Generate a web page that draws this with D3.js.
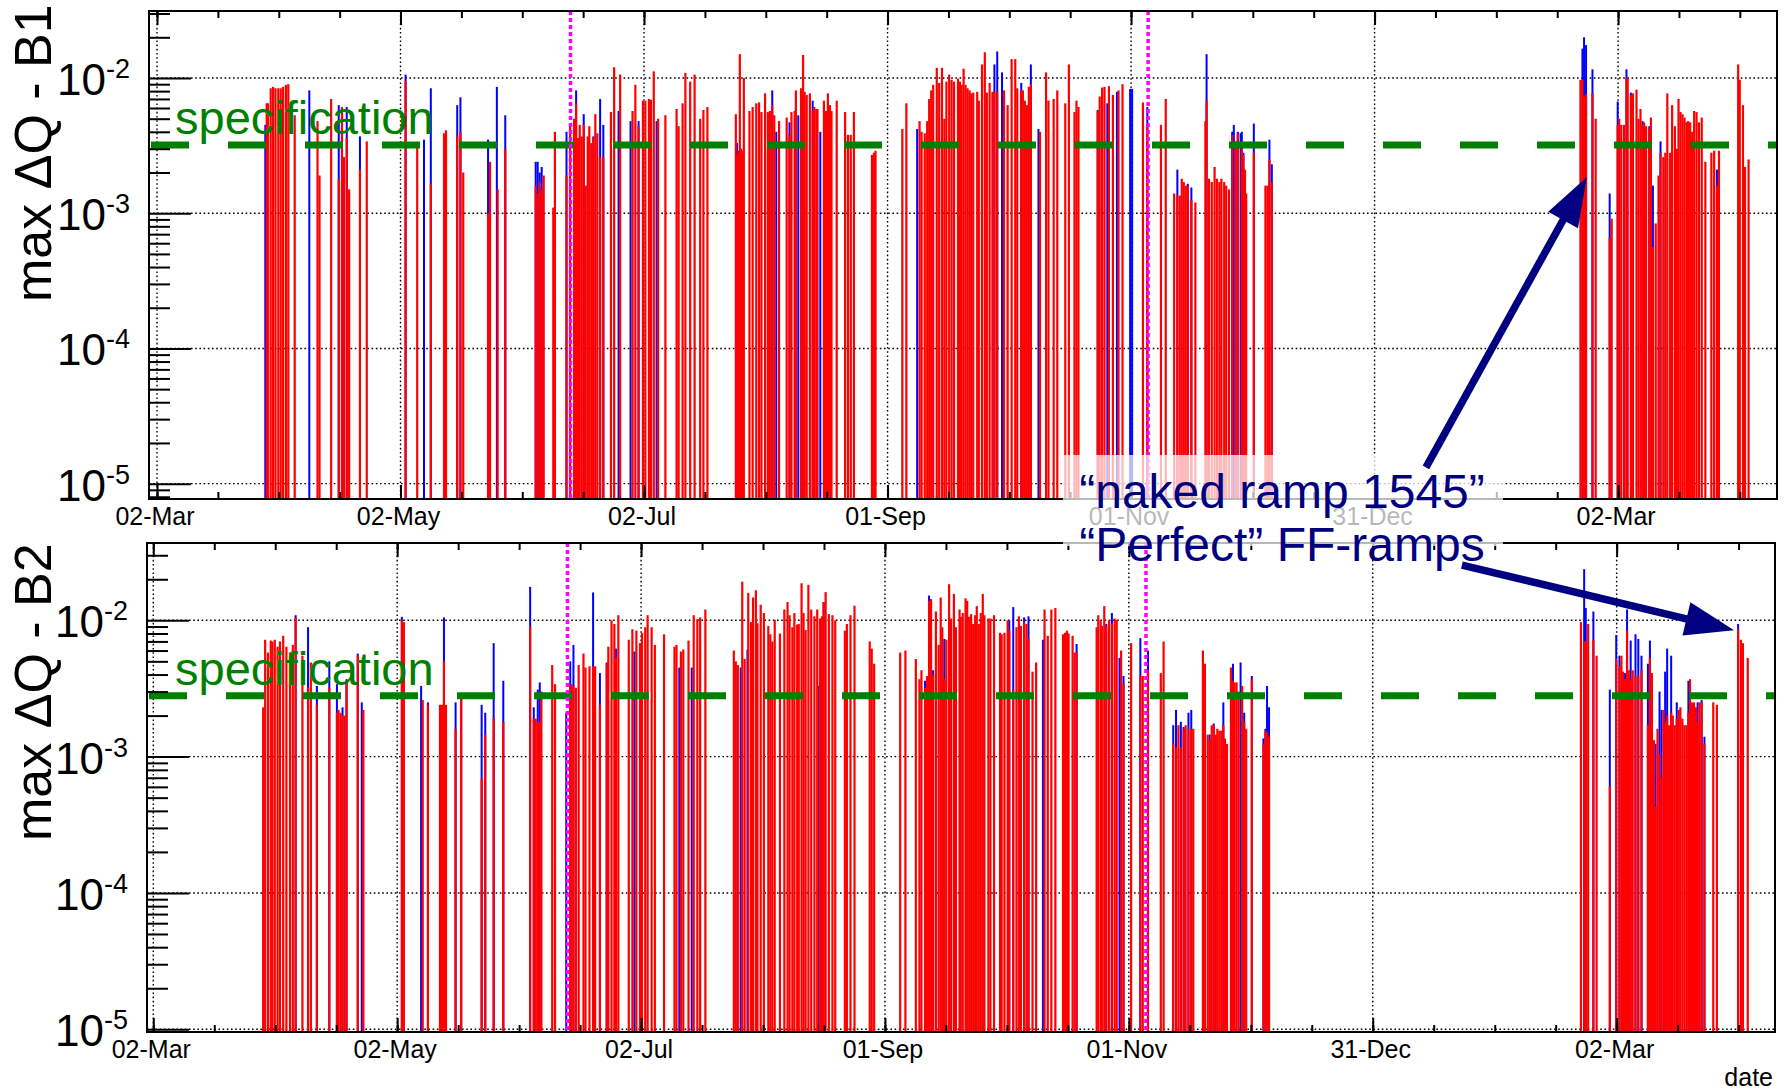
<!DOCTYPE html>
<html>
<head>
<meta charset="utf-8">
<script src="https://cdn.jsdelivr.net/npm/d3@7"></script>
<style>
  body { margin: 0; background: #fff; }
  svg { display: block; font-family: "Liberation Sans", Arial, Helvetica, sans-serif; }
</style>
</head>
<body>
<div id="chart"></div>
<script>
// days are counted from 02-Mar-2010, values are max dQ per ramp
const xTickLabels = ["02-Mar", "02-May", "02-Jul", "01-Sep", "01-Nov", "31-Dec", "02-Mar"];
const yDecades = [1e-5, 1e-4, 1e-3, 1e-2];
const beamModeDays = [103.3, 247.6];
const specB1 = 3.2e-3;
const specB2 = 2.8e-3;

const b1Red = [
  [27.4,6.5e-3],[27.7,6.5e-3],[28.4,8.4e-3],[29.0,8.6e-3],[29.6,8.4e-3],[30.3,8.4e-3],[30.9,8.4e-3],[31.5,8.6e-3],[32.2,8.9e-3],[32.8,9.0e-3],
  [34.4,5.3e-3],[40.1,4.8e-3],[40.6,1.9e-3],[43.5,7.0e-3],[45.4,1.8e-3],[46.2,6.1e-3],[46.7,2.6e-3],[47.4,3.6e-3],[48.0,1.5e-3],[50.7,2.1e-3],
  [52.4,3.4e-3],[62.1,9.5e-3],[65.0,3.2e-3],[68.4,1.65e-3],[71.7,3.9e-3],[72.2,4.1e-3],[75.0,3.7e-3],[75.8,4.0e-3],[76.5,2.0e-3],[82.7,1.0e-3],
  [83.2,2.4e-3],[85.1,1.5e-3],[87.0,3.0e-3],[94.6,1.6e-3],[95.1,1.4e-3],[95.6,1.7e-3],[96.1,1.5e-3],[96.6,1.9e-3],[99.0,1.1e-3],[99.4,4.0e-3],
  [102.3,1.9e-3],[103.2,4.5e-3],[104.2,5.0e-3],[104.7,6.5e-3],[105.2,3.6e-3],[105.6,4.5e-3],[106.1,3.7e-3],[106.6,4.5e-3],[107.1,1.6e-3],[107.6,3.7e-3],
  [108.0,4.4e-3],[108.5,3.3e-3],[109.0,3.6e-3],[109.5,5.4e-3],[110.0,3.9e-3],[110.7,2.6e-3],[111.5,2.6e-3],[113.4,5.6e-3],[114.2,1.2e-2],[115.7,1.06e-2],
  [118.8,5.7e-3],[119.5,8.9e-3],[120.3,4.4e-3],[121.4,6.8e-3],[122.0,6.8e-3],[122.9,7.0e-3],[123.4,6.9e-3],[124.1,1.12e-2],[125.2,5.0e-3],[127.0,5.3e-3],
  [129.8,5.9e-3],[130.3,4.4e-3],[131.3,6.5e-3],[132.0,1.09e-2],[133.2,9.4e-3],[134.3,1.06e-2],[135.7,5.0e-3],[136.5,5.8e-3],[137.5,6.1e-3],[144.6,5.4e-3],
  [144.9,2.7e-3],[145.3,2.9e-3],[145.6,1.5e-2],[145.9,3.0e-3],[146.3,2.9e-3],[146.6,1.0e-2],[148.0,5.7e-3],[148.8,6.1e-3],[149.7,6.5e-3],[150.4,6.6e-3],
  [151.0,5.6e-3],[151.9,7.7e-3],[152.6,5.6e-3],[153.1,5.7e-3],[153.7,6.3e-3],[154.2,5.3e-3],[155.4,4.8e-3],[157.3,5.1e-3],[158.0,3.8e-3],[158.5,5.6e-3],
  [159.3,5.7e-3],[159.6,8.1e-3],[160.9,8.4e-3],[161.4,1.48e-2],[161.8,7.9e-3],[162.3,7.5e-3],[163.1,7.7e-3],[163.8,5.7e-3],[164.2,6.1e-3],[164.7,5.9e-3],
  [165.0,5.9e-3],[166.6,6.8e-3],[167.1,5.7e-3],[167.6,7.7e-3],[168.1,6.3e-3],[168.5,5.7e-3],[169.8,6.8e-3],[171.9,5.6e-3],[172.6,3.8e-3],[173.3,3.8e-3],
  [174.1,5.6e-3],[178.6,2.7e-3],[179.1,2.8e-3],[179.5,2.9e-3],[186.2,4.2e-3],[187.2,6.5e-3],[190.5,4.8e-3],[191.0,4.0e-3],[191.8,3.9e-3],[192.4,4.8e-3],
  [192.9,7.0e-3],[193.4,8.1e-3],[193.9,8.9e-3],[194.8,1.19e-2],[195.4,9.2e-3],[196.1,1.19e-2],[196.7,5.0e-3],[197.2,9.4e-3],[197.9,1.06e-2],[198.5,9.7e-3],
  [199.1,9.4e-3],[200.1,9.9e-3],[200.6,9.4e-3],[201.0,8.9e-3],[201.5,1.17e-2],[202.0,8.9e-3],[202.5,8.4e-3],[203.0,8.1e-3],[203.4,7.7e-3],[203.9,7.8e-3],
  [204.9,7.9e-3],[205.3,6.8e-3],[206.1,1.26e-2],[206.8,1.55e-2],[207.3,7.8e-3],[208.0,9.2e-3],[208.7,7.9e-3],[209.2,7.9e-3],[209.9,7.9e-3],[211.6,8.1e-3],
  [212.5,6.3e-3],[213.5,1.38e-2],[214.4,1.38e-2],[214.9,8.4e-3],[215.9,8.1e-3],[216.3,8.1e-3],[216.8,6.8e-3],[217.3,6.3e-3],[217.8,8.6e-3],[218.3,9.0e-3],
  [220.6,4.0e-3],[222.1,1.1e-2],[222.7,6.8e-3],[224.0,7.0e-3],[224.9,8.1e-3],[226.9,6.5e-3],[227.8,1.26e-2],[229.2,5.6e-3],[229.7,6.8e-3],[230.2,6.1e-3],
  [235.0,5.7e-3],[235.5,7.3e-3],[236.1,8.5e-3],[236.7,8.6e-3],[237.8,8.7e-3],[238.8,7.5e-3],[240.2,8.1e-3],[241.2,9.0e-3],[246.3,6.6e-3],[247.4,4.4e-3],
  [250.8,4.5e-3],[252.0,7.0e-3],[254.1,1.4e-3],[254.9,1.35e-3],[255.5,1.35e-3],[256.0,1.8e-3],[256.5,1.7e-3],[257.0,1.6e-3],[257.5,1.6e-3],[258.4,1.25e-3],
  [259.4,1.2e-3],[261.9,4.8e-3],[262.2,6.8e-3],[262.8,1.8e-3],[263.5,1.7e-3],[264.2,2.2e-3],[264.8,1.8e-3],[265.4,1.7e-3],[265.9,1.8e-3],[266.6,1.7e-3],
  [267.1,1.6e-3],[267.8,1.5e-3],[268.6,3.8e-3],[269.5,3.4e-3],[270.0,3.9e-3],[271.0,3.0e-3],[271.4,2.7e-3],[271.8,2.1e-3],[272.1,1.4e-3],[274.0,2.8e-3],
  [276.9,1.6e-3],[277.4,1.6e-3],[277.9,2.5e-3],[278.5,1.7e-3],
  [355.6,9.7e-3],[356.1,9.7e-3],[356.5,7.3e-3],[357.0,7.6e-3],[358.6,7.7e-3],[359.4,5.0e-3],[362.9,6.6e-4],[363.4,9.1e-4],[364.9,4.5e-3],[365.3,5.0e-3],
  [365.8,4.5e-3],[366.5,4.5e-3],[367.1,1.0e-2],[367.4,1.0e-2],[368.2,7.5e-3],[368.7,7.7e-3],[369.6,8.2e-3],[370.1,5.0e-3],[370.6,5.9e-3],[371.1,4.5e-3],
  [371.5,4.7e-3],[372.0,4.4e-3],[372.8,4.2e-3],[373.2,5.1e-3],[373.7,5.6e-4],[374.4,8.4e-4],[375.1,1.9e-3],[375.6,2.8e-3],[376.3,2.6e-3],[376.8,2.8e-3],
  [377.3,7.7e-3],[378.0,2.8e-3],[378.5,6.3e-3],[379.2,4.4e-3],[379.7,3.0e-3],[380.1,7.0e-3],[380.6,5.6e-3],[381.1,5.4e-3],[381.6,5.1e-3],[382.1,4.7e-3],
  [382.5,4.8e-3],[383.0,4.7e-3],[383.5,4.0e-3],[384.0,5.7e-3],[384.6,5.6e-3],[385.2,4.7e-3],[385.9,5.1e-3],[386.8,2.4e-3],[388.3,2.8e-3],[389.0,2.9e-3],
  [389.7,1.6e-3],[390.2,2.9e-3],[395.0,1.26e-2],[395.4,9.7e-3],[396.2,6.3e-3],[396.7,2.2e-3],[397.6,2.5e-3]
];

const b1Blue = [
  [27.05,4.5e-3],[38.05,8.1e-3],[45.4,6.3e-3],[47.4,6.1e-3],[50.7,3.7e-3],[62.1,1.06e-2],[66.7,3.5e-3],[68.4,8.4e-3],[75.0,6.3e-3],[75.8,7.2e-3],
  [82.7,3.5e-3],[84.9,8.6e-3],[87.0,5.3e-3],[94.6,2.4e-3],[95.1,2.4e-3],[95.6,2.0e-3],[96.1,2.2e-3],[102.3,4.0e-3],[104.7,8.1e-3],[106.6,5.4e-3],
  [109.0,3.7e-3],[110.7,7.0e-3],[111.5,4.5e-3],[115.3,5.7e-3],[118.3,4.8e-3],[120.3,4.8e-3],[124.8,4.8e-3],[144.9,3.3e-3],[153.7,8.1e-3],[154.7,4.0e-3],
  [158.0,4.7e-3],[160.2,5.3e-3],[163.8,6.8e-3],[165.7,4.0e-3],[189.9,4.2e-3],[209.2,1.26e-2],[209.9,1.57e-2],[211.1,1.1e-2],[215.9,9.2e-3],[218.3,1.26e-2],
  [220.2,4.2e-3],[235.0,5.8e-3],[237.4,6.5e-3],[239.8,7.9e-3],[243.1,8.3e-3],[243.6,8.3e-3],[247.4,6.1e-3],[254.9,2.1e-3],[257.5,1.65e-3],[258.4,1.55e-3],
  [262.2,1.5e-2],[268.6,4.0e-3],[269.0,4.5e-3],[270.0,4.0e-3],[270.7,3.9e-3],[271.0,4.0e-3],[271.4,2.8e-3],[274.0,4.6e-3],[277.9,3.5e-3],[278.5,2.3e-3],
  [356.1,1.65e-2],[356.5,2.0e-2],[357.0,1.75e-2],[358.6,1.16e-2],[362.9,1.4e-3],[364.9,6.7e-3],[367.1,1.16e-2],[368.2,7.8e-3],[371.1,4.8e-3],[372.8,4.4e-3],
  [373.7,1.6e-3],[375.6,3.4e-3],[389.7,2.1e-3]
];

const b2Red = [
  [27.4,2.3e-3],[27.9,7.2e-3],[28.6,5.8e-3],[29.3,7.1e-3],[29.7,7.0e-3],[30.3,7.2e-3],[31.0,6.4e-3],[31.6,7.0e-3],[32.4,7.7e-3],[33.2,6.4e-3],
  [34.1,5.8e-3],[34.8,6.6e-3],[35.5,1.05e-2],[37.2,5.5e-3],[38.6,3.2e-3],[39.3,4.9e-3],[40.8,2.4e-3],[43.9,3.2e-3],[45.8,2.1e-3],[46.2,2.2e-3],
  [46.7,2.1e-3],[47.2,2.0e-3],[47.7,2.0e-3],[48.2,3.6e-3],[51.0,5.5e-3],[52.4,2.2e-3],[62.0,1.0e-2],[62.5,9.7e-3],[67.2,2.6e-3],[68.5,2.4e-3],
  [71.5,2.4e-3],[72.0,2.4e-3],[72.5,5.0e-3],[73.0,2.4e-3],[75.4,1.6e-3],[76.8,2.8e-3],[81.9,6.9e-4],[82.8,1.45e-3],[84.9,1.9e-3],[87.3,1.8e-3],
  [94.0,9.0e-3],[94.9,1.9e-3],[95.4,1.9e-3],[95.9,1.8e-3],[96.4,1.8e-3],[96.8,3.0e-3],[99.5,4.7e-3],[100.2,3.4e-3],[104.0,3.3e-3],[104.3,3.4e-3],
  [104.8,3.3e-3],[105.4,3.2e-3],[106.1,4.7e-3],[107.3,5.7e-3],[107.8,4.5e-3],[108.8,4.6e-3],[109.7,4.6e-3],[110.2,4.6e-3],[111.4,2.4e-3],[113.1,4.8e-3],
  [113.5,6.4e-3],[114.3,1.0e-2],[115.0,9.4e-3],[115.4,5.3e-3],[116.0,1.09e-2],[118.6,7.2e-3],[119.5,8.6e-3],[120.5,8.4e-3],[121.4,6.8e-3],[121.9,8.1e-3],
  [122.7,8.9e-3],[123.3,1.09e-2],[124.3,8.9e-3],[125.1,6.6e-3],[127.4,7.9e-3],[130.0,6.4e-3],[130.5,6.6e-3],[131.6,5.9e-3],[132.2,6.1e-3],[133.5,7.1e-3],
  [134.8,1.09e-2],[135.7,1.02e-2],[136.4,1.05e-2],[137.7,1.2e-2],[144.8,6.0e-3],[145.3,5.0e-3],[145.8,4.7e-3],[146.9,1.92e-2],[147.5,5.2e-3],[148.4,1.59e-2],
  [149.1,9.7e-3],[149.6,1.47e-2],[150.3,1.66e-2],[150.7,9.5e-3],[151.5,1.3e-2],[152.3,1.13e-2],[153.4,9.1e-3],[153.9,7.9e-3],[154.4,7.0e-3],[155.0,1.01e-2],
  [156.3,8.0e-3],[157.4,1.2e-2],[158.2,1.36e-2],[158.7,1.09e-2],[159.4,8.9e-3],[159.9,1.13e-2],[160.6,9.3e-3],[161.0,9.4e-3],[161.7,1.87e-2],[162.2,1.13e-2],
  [162.7,8.5e-3],[163.4,1.82e-2],[164.1,1.2e-2],[164.9,1.07e-2],[165.6,1.2e-2],[166.3,1.03e-2],[166.8,1.07e-2],[167.2,1.35e-2],[167.7,1.61e-2],[168.5,1.11e-2],
  [169.4,1.09e-2],[170.1,1.0e-2],[172.5,8.4e-3],[173.0,9.4e-3],[173.9,1.09e-2],[174.9,1.28e-2],[178.7,7.0e-3],[179.2,6.2e-3],[179.8,4.8e-3],[186.3,5.8e-3],
  [187.6,6.0e-3],[190.2,5.2e-3],[191.1,3.7e-3],[191.6,4.3e-3],[192.5,3.2e-3],[193.0,3.9e-3],[193.5,1.39e-2],[194.0,1.43e-2],[194.5,4.0e-3],[195.2,1.16e-2],
  [195.9,6.6e-3],[196.4,1.47e-2],[196.8,8.9e-3],[197.3,3.7e-3],[197.8,7.2e-3],[198.5,1.84e-2],[199.0,1.03e-2],[199.7,1.56e-2],[200.2,8.9e-3],[201.1,1.2e-2],
  [201.4,1.06e-2],[201.9,1.13e-2],[202.6,1.45e-2],[203.0,1.39e-2],[203.5,1.06e-2],[204.0,1.11e-2],[204.5,9.4e-3],[205.0,1.09e-2],[205.4,1.27e-2],[205.9,9.4e-3],
  [206.4,1.13e-2],[206.9,1.56e-2],[207.3,1.09e-2],[208.3,1.03e-2],[208.8,1.03e-2],[209.7,1.09e-2],[211.2,8.1e-3],[211.6,7.9e-3],[212.3,8.1e-3],[213.1,1.0e-2],
  [213.5,8.4e-3],[214.5,3.1e-3],[215.3,8.9e-3],[215.9,1.07e-2],[216.4,9.1e-3],[217.2,9.7e-3],[217.8,9.4e-3],[218.3,7.4e-3],[219.3,4.2e-3],[220.2,4.9e-3],
  [222.3,1.2e-2],[223.1,7.7e-3],[224.0,1.2e-2],[225.0,1.23e-2],[226.9,7.9e-3],[227.4,8.1e-3],[227.9,8.4e-3],[228.3,8.0e-3],[229.3,7.7e-3],[229.8,5.8e-3],
  [230.3,5.8e-3],[235.3,8.9e-3],[235.7,1.09e-2],[236.3,1.0e-2],[236.6,9.1e-3],[237.2,1.27e-2],[237.7,9.1e-3],[238.4,1.0e-2],[239.1,9.4e-3],[239.8,1.03e-2],
  [240.3,1.01e-2],[241.4,6.0e-3],[242.0,3.4e-3],[243.9,6.8e-3],[246.2,3.9e-3],[246.8,3.9e-3],[248.1,4.3e-3],[251.3,4.1e-3],[252.0,7.0e-3],[254.4,1.24e-3],
  [255.1,1.17e-3],[255.7,1.7e-3],[256.3,1.17e-3],[257.0,1.6e-3],[257.5,1.7e-3],[258.2,1.6e-3],[258.9,1.6e-3],[259.4,1.6e-3],[261.8,6.0e-3],[262.3,4.8e-3],
  [263.0,1.45e-3],[263.5,1.32e-3],[264.0,1.7e-3],[264.5,1.7e-3],[265.0,1.45e-3],[265.4,1.6e-3],[265.9,1.55e-3],[266.4,1.55e-3],[266.9,1.7e-3],[267.3,1.36e-3],
  [267.8,1.24e-3],[268.8,4.5e-3],[269.3,3.6e-3],[269.7,3.5e-3],[270.2,3.5e-3],[270.7,3.0e-3],[271.6,3.3e-3],[272.1,1.8e-3],[272.6,1.6e-3],[274.0,3.7e-3],
  [276.9,1.24e-3],[277.4,1.55e-3],[277.8,1.5e-3],[278.3,1.4e-3],
  [356.1,9.7e-3],[356.9,7.0e-3],[357.3,7.0e-3],[357.9,9.4e-3],[359.2,7.2e-3],[360.0,5.5e-3],[363.3,6.1e-4],[364.9,5.2e-3],[365.7,4.6e-3],[366.2,5.5e-3],
  [366.6,4.2e-3],[367.1,3.7e-3],[367.6,8.4e-3],[368.1,4.3e-3],[368.5,3.7e-3],[369.0,4.3e-3],[369.7,3.9e-3],[370.4,3.9e-3],[371.2,4.3e-3],[372.8,1.7e-3],
  [373.3,5.3e-3],[373.8,4.1e-3],[374.3,1.32e-3],[374.7,4.3e-4],[375.2,1.6e-3],[375.7,1.04e-3],[376.2,7.1e-4],[376.7,2.2e-3],[377.1,1.8e-3],[377.6,2.0e-3],
  [378.1,1.7e-3],[378.6,2.1e-3],[379.0,2.0e-3],[379.5,1.7e-3],[380.0,1.9e-3],[380.5,2.2e-3],[380.9,2.3e-3],[381.4,1.9e-3],[381.9,1.7e-3],[382.4,1.7e-3],
  [382.9,2.1e-3],[383.3,3.7e-3],[383.8,2.5e-3],[384.3,2.5e-3],[384.8,2.3e-3],[385.2,1.8e-3],[385.7,2.5e-3],[386.2,2.5e-3],[386.9,1.24e-3],[389.1,2.5e-3],
  [390.0,2.4e-3],[395.3,8.6e-3],[396.0,7.2e-3],[396.5,6.8e-3],[397.7,5.3e-3]
];

const b2Blue = [
  [35.5,1.09e-2],[38.6,8.9e-3],[40.8,3.3e-3],[43.9,5.0e-3],[45.8,3.4e-3],[47.2,2.3e-3],[48.2,3.7e-3],[51.0,5.7e-3],[52.0,2.5e-3],[62.0,1.06e-2],
  [66.8,3.3e-3],[68.5,2.5e-3],[72.5,1.05e-2],[75.4,2.5e-3],[76.8,2.9e-3],[81.9,2.4e-3],[82.8,2.1e-3],[84.9,6.8e-3],[87.3,3.6e-3],[94.0,1.76e-2],
  [94.9,2.3e-3],[95.9,3.1e-3],[96.4,3.5e-3],[103.0,2.1e-3],[104.0,5.0e-3],[104.8,6.6e-3],[109.7,1.6e-2],[111.4,4.1e-3],[113.1,4.9e-3],[115.4,6.2e-3],
  [120.0,5.9e-3],[131.2,4.5e-3],[134.3,4.5e-3],[146.5,4.5e-3],[148.2,6.1e-3],[166.0,3.3e-3],[167.2,1.36e-2],[192.5,3.6e-3],[193.5,1.52e-2],[194.5,4.3e-3],
  [197.3,7.3e-3],[213.5,1.0e-2],[214.5,1.25e-2],[217.2,1.05e-2],[218.3,1.07e-2],[221.9,7.2e-3],[230.3,6.7e-3],[237.7,9.4e-3],[239.1,1.13e-2],[241.0,5.3e-3],
  [242.0,3.9e-3],[246.2,7.4e-3],[248.1,6.0e-3],[254.4,1.7e-3],[255.1,2.2e-3],[256.3,1.8e-3],[257.0,1.65e-3],[258.2,2.1e-3],[258.9,2.2e-3],[263.5,1.45e-3],
  [264.5,1.75e-3],[266.9,2.5e-3],[269.3,4.8e-3],[271.2,4.9e-3],[272.1,2.1e-3],[274.0,3.9e-3],[276.9,1.36e-3],[277.4,1.6e-3],[277.8,3.3e-3],[278.3,2.3e-3],
  [356.9,2.37e-2],[357.3,1.23e-2],[359.2,1.16e-2],[363.3,3.1e-3],[364.9,7.8e-3],[365.7,5.5e-3],[367.1,4.1e-3],[367.6,1.2e-2],[368.5,7.1e-3],[369.7,7.9e-3],
  [370.4,7.3e-3],[371.2,5.5e-3],[372.8,4.8e-3],[373.3,7.1e-3],[374.7,1.24e-3],[375.7,3.0e-3],[376.2,2.2e-3],[377.1,4.2e-3],[377.6,6.2e-3],[378.6,5.5e-3],
  [380.0,2.5e-3],[382.9,3.6e-3],[385.2,2.5e-3],[386.2,2.6e-3],[386.9,1.4e-3],[395.3,9.4e-3]
];

// annotation arrows, given as [day, value] in the panel they point into
const arrowNaked = { panel: 0, from: [317.0, 1.32e-5], to: [357.2, 1.85e-3] };
const arrowPerfect = { panel: 1, from: [326.4, 2.54e-2], to: [394.3, 8.45e-3] };

const panels = [
  { title: "max ΔQ - B1", red: b1Red, blue: b1Blue, spec: specB1,
    left: 149, right: 1777, top: 11, bottom: 499,
    dayRange: [-2.0, 404.7], yRange: [7.7e-6, 3.13e-2], titleY: 302 },
  { title: "max ΔQ - B2", red: b2Red, blue: b2Blue, spec: specB2,
    left: 147, right: 1775, top: 543, bottom: 1032,
    dayRange: [-1.57, 404.5], yRange: [9.55e-6, 3.69e-2], titleY: 841 }
];

const W = 1787, H = 1091;
const navy = "#000080", green = "#008000";

const svg = d3.select("#chart")
  .append("svg")
  .attr("width", W)
  .attr("height", H);

const t0 = Date.UTC(2010, 2, 2);
const toDate = d => new Date(t0 + d * 864e5);
const majorDates = d3.range(xTickLabels.length).map(k => toDate(k * 365 / 6));
const minorDates = d3.range(27).map(k => toDate(k * 365 / 24));

const scales = [];
const labelLayer = svg.append("g");

panels.forEach((p, i) => {
  const x = d3.scaleUtc()
    .domain(p.dayRange.map(toDate))
    .range([p.left, p.right]);
  const y = d3.scaleLog()
    .domain(p.yRange)
    .range([p.bottom, p.top]);
  scales.push({ x, y });

  const g = svg.append("g");

  g.append("clipPath")
    .attr("id", "frame" + i)
    .append("rect")
    .attr("x", p.left)
    .attr("y", p.top)
    .attr("width", p.right - p.left)
    .attr("height", p.bottom - p.top);

  // dotted grid
  const grid = g.append("g")
    .attr("stroke", "#000")
    .attr("stroke-width", 1.4)
    .attr("stroke-dasharray", "1.6,2.6");
  grid.selectAll("line.v")
    .data(majorDates.filter(d => x(d) > p.left && x(d) < p.right))
    .join("line")
    .attr("class", "v")
    .attr("x1", d => x(d)).attr("x2", d => x(d))
    .attr("y1", p.top).attr("y2", p.bottom);
  grid.selectAll("line.h")
    .data(yDecades)
    .join("line")
    .attr("class", "h")
    .attr("x1", p.left).attr("x2", p.right)
    .attr("y1", d => y(d)).attr("y2", d => y(d));

  // bars: blue first, red drawn on top
  const bars = g.append("g").attr("clip-path", `url(#frame${i})`);
  bars.selectAll("rect.blue")
    .data(p.blue)
    .join("rect")
    .attr("class", "blue")
    .attr("x", d => x(toDate(d[0])) - 1)
    .attr("width", 2)
    .attr("y", d => y(d[1]))
    .attr("height", d => p.bottom - y(d[1]))
    .attr("fill", "#0000ff");
  bars.selectAll("rect.red")
    .data(p.red)
    .join("rect")
    .attr("class", "red")
    .attr("x", d => x(toDate(d[0])) - 1.1)
    .attr("width", 2.2)
    .attr("y", d => y(d[1]))
    .attr("height", d => p.bottom - y(d[1]))
    .attr("fill", "#ff0000");

  // specification level
  g.append("line")
    .attr("x1", p.left + 2).attr("x2", p.right)
    .attr("y1", y(p.spec)).attr("y2", y(p.spec))
    .attr("stroke", green)
    .attr("stroke-width", 7)
    .attr("stroke-dasharray", "38,39");

  g.append("text")
    .attr("x", 175)
    .attr("y", y(p.spec) - 11)
    .attr("fill", green)
    .style("font-size", "47px")
    .text("specification");

  // beam mode changes
  g.selectAll("line.mode")
    .data(beamModeDays)
    .join("line")
    .attr("class", "mode")
    .attr("x1", d => x(toDate(d))).attr("x2", d => x(toDate(d)))
    .attr("y1", p.top).attr("y2", p.bottom)
    .attr("stroke", "#ff00ff")
    .attr("stroke-width", 3.5)
    .attr("stroke-dasharray", "4,3");

  // ticks
  const tickAxis = (axis, ty) => {
    const a = g.append("g").attr("transform", `translate(0,${ty})`).call(axis);
    a.select(".domain").remove();
    a.selectAll("line").attr("stroke", "#000").attr("stroke-width", 2);
  };
  tickAxis(d3.axisBottom(x).tickValues(minorDates).tickSize(7).tickFormat(""), p.top);
  tickAxis(d3.axisBottom(x).tickValues(majorDates).tickSize(14).tickFormat(""), p.top);
  tickAxis(d3.axisTop(x).tickValues(minorDates).tickSize(7).tickFormat(""), p.bottom);
  tickAxis(d3.axisTop(x).tickValues(majorDates).tickSize(14).tickFormat(""), p.bottom);

  const lo = Math.floor(Math.log10(p.yRange[0]));
  const minorY = [];
  for (let e = lo; e <= -2; e++) {
    for (let m = 2; m <= 9; m++) {
      const v = m * Math.pow(10, e);
      if (v > p.yRange[0] && v < p.yRange[1]) minorY.push(v);
    }
  }
  [[minorY, 21], [yDecades, 42]].forEach(([vals, size]) => {
    const a = g.append("g")
      .attr("transform", `translate(${p.left},0)`)
      .call(d3.axisRight(y).tickValues(vals).tickSize(size).tickFormat(""));
    a.select(".domain").remove();
    a.selectAll("line").attr("stroke", "#000").attr("stroke-width", 2);
  });

  g.append("rect")
    .attr("x", p.left)
    .attr("y", p.top)
    .attr("width", p.right - p.left)
    .attr("height", p.bottom - p.top)
    .attr("fill", "none")
    .attr("stroke", "#000")
    .attr("stroke-width", 2);

  // tick labels
  const yl = labelLayer.selectAll(null)
    .data(yDecades)
    .enter()
    .append("text")
    .attr("x", p.left - 19)
    .attr("y", d => y(d) + 17)
    .attr("text-anchor", "end")
    .attr("fill", "#000")
    .style("font-size", "44px");
  yl.append("tspan").text("10");
  yl.append("tspan")
    .attr("dy", -17)
    .style("font-size", "27px")
    .text(d => Math.round(Math.log10(d)));

  labelLayer.selectAll(null)
    .data(majorDates)
    .enter()
    .append("text")
    .attr("x", d => x(d) - 2)
    .attr("y", p.bottom + 25.5)
    .attr("text-anchor", "middle")
    .attr("fill", "#000")
    .style("font-size", "25px")
    .text((d, k) => xTickLabels[k]);

  labelLayer.append("text")
    .attr("transform", `translate(51,${p.titleY}) rotate(-90)`)
    .attr("fill", "#000")
    .style("font-size", "52px")
    .text(p.title);
});

labelLayer.append("text")
  .attr("x", 1773)
  .attr("y", 1086)
  .attr("text-anchor", "end")
  .attr("fill", "#000")
  .style("font-size", "25px")
  .text("date");

// annotation: translucent box, text and arrows
const note = svg.append("g");
note.append("rect")
  .attr("x", 1063)
  .attr("y", 455)
  .attr("width", 440)
  .attr("height", 91)
  .attr("fill", "#fff")
  .attr("fill-opacity", 0.72);

note.selectAll("text")
  .data(["\u201Cnaked ramp 1545\u201D", "\u201CPerfect\u201D FF-ramps"])
  .join("text")
  .attr("x", 1282)
  .attr("y", (d, k) => 508 + k * 53)
  .attr("text-anchor", "middle")
  .attr("fill", navy)
  .style("font-size", "48px")
  .text(d => d);

function drawArrow(a) {
  const { x, y } = scales[a.panel];
  const x0 = x(toDate(a.from[0])), y0 = y(a.from[1]);
  const x1 = x(toDate(a.to[0])), y1 = y(a.to[1]);
  const len = Math.hypot(x1 - x0, y1 - y0);
  const ux = (x1 - x0) / len, uy = (y1 - y0) / len;
  const headLen = 49, headHalf = 17;
  const bx = x1 - ux * headLen, by = y1 - uy * headLen;

  note.append("line")
    .attr("x1", x0).attr("y1", y0)
    .attr("x2", bx + ux * 2).attr("y2", by + uy * 2)
    .attr("stroke", navy)
    .attr("stroke-width", 7.5);

  note.append("path")
    .attr("d", d3.line()([
      [x1, y1],
      [bx - uy * headHalf, by + ux * headHalf],
      [bx + uy * headHalf, by - ux * headHalf]
    ]) + "Z")
    .attr("fill", navy);
}

drawArrow(arrowNaked);
drawArrow(arrowPerfect);
</script>
</body>
</html>
